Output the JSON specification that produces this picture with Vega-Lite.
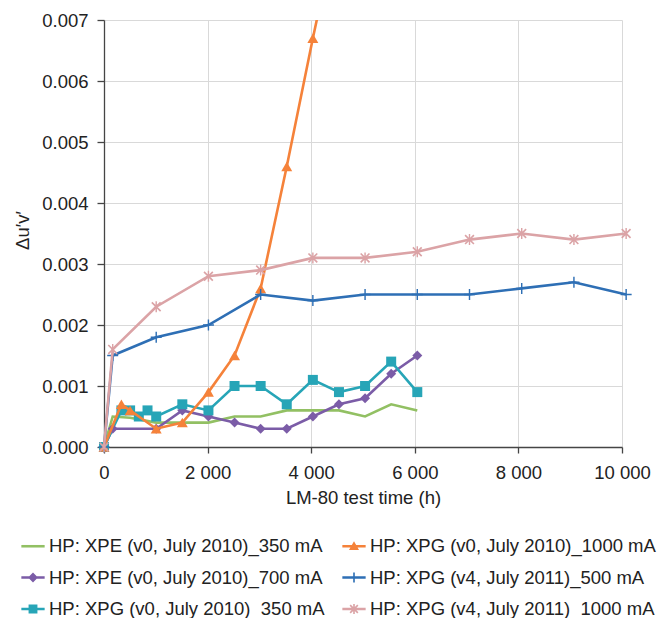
{
  "$schema": "https://vega.github.io/schema/vega-lite/v6.json",
  "width": 518,
  "height": 427,
  "autosize": "none",
  "padding": {"left": 104, "top": 20, "right": 40, "bottom": 171},
  "background": "white",
  "config": {
    "font": "Liberation Sans",
    "view": {"stroke": null},
    "axis": {
      "labelFontSize": 18.5,
      "titleFontSize": 18.5,
      "labelColor": "#222222",
      "titleColor": "#222222",
      "titleFontWeight": "normal",
      "gridColor": "#d9d9d9",
      "gridWidth": 1,
      "domainColor": "#454545",
      "domainWidth": 1.3,
      "tickColor": "#454545",
      "tickWidth": 1.3
    }
  },
  "data": {
    "values": [
      {"s": "HP: XPE (v0, July 2010)_350 mA", "t": 0, "d": 0},
      {"s": "HP: XPE (v0, July 2010)_350 mA", "t": 168, "d": 0.0005},
      {"s": "HP: XPE (v0, July 2010)_350 mA", "t": 504, "d": 0.00048},
      {"s": "HP: XPE (v0, July 2010)_350 mA", "t": 1008, "d": 0.0004},
      {"s": "HP: XPE (v0, July 2010)_350 mA", "t": 1512, "d": 0.0004},
      {"s": "HP: XPE (v0, July 2010)_350 mA", "t": 2016, "d": 0.0004},
      {"s": "HP: XPE (v0, July 2010)_350 mA", "t": 2520, "d": 0.0005},
      {"s": "HP: XPE (v0, July 2010)_350 mA", "t": 3024, "d": 0.0005},
      {"s": "HP: XPE (v0, July 2010)_350 mA", "t": 3528, "d": 0.0006},
      {"s": "HP: XPE (v0, July 2010)_350 mA", "t": 4032, "d": 0.0006},
      {"s": "HP: XPE (v0, July 2010)_350 mA", "t": 4536, "d": 0.0006},
      {"s": "HP: XPE (v0, July 2010)_350 mA", "t": 5040, "d": 0.0005},
      {"s": "HP: XPE (v0, July 2010)_350 mA", "t": 5544, "d": 0.0007},
      {"s": "HP: XPE (v0, July 2010)_350 mA", "t": 6048, "d": 0.0006},
      {"s": "HP: XPE (v0, July 2010)_700 mA", "t": 0, "d": 0},
      {"s": "HP: XPE (v0, July 2010)_700 mA", "t": 168, "d": 0.0003},
      {"s": "HP: XPE (v0, July 2010)_700 mA", "t": 1008, "d": 0.0003},
      {"s": "HP: XPE (v0, July 2010)_700 mA", "t": 1512, "d": 0.0006},
      {"s": "HP: XPE (v0, July 2010)_700 mA", "t": 2016, "d": 0.0005},
      {"s": "HP: XPE (v0, July 2010)_700 mA", "t": 2520, "d": 0.0004},
      {"s": "HP: XPE (v0, July 2010)_700 mA", "t": 3024, "d": 0.0003},
      {"s": "HP: XPE (v0, July 2010)_700 mA", "t": 3528, "d": 0.0003},
      {"s": "HP: XPE (v0, July 2010)_700 mA", "t": 4032, "d": 0.0005},
      {"s": "HP: XPE (v0, July 2010)_700 mA", "t": 4536, "d": 0.0007},
      {"s": "HP: XPE (v0, July 2010)_700 mA", "t": 5040, "d": 0.0008},
      {"s": "HP: XPE (v0, July 2010)_700 mA", "t": 5544, "d": 0.0012},
      {"s": "HP: XPE (v0, July 2010)_700 mA", "t": 6048, "d": 0.0015},
      {"s": "HP: XPG (v0, July 2010)_350 mA", "t": 0, "d": 0},
      {"s": "HP: XPG (v0, July 2010)_350 mA", "t": 336, "d": 0.0006},
      {"s": "HP: XPG (v0, July 2010)_350 mA", "t": 504, "d": 0.0006},
      {"s": "HP: XPG (v0, July 2010)_350 mA", "t": 672, "d": 0.0005},
      {"s": "HP: XPG (v0, July 2010)_350 mA", "t": 840, "d": 0.0006},
      {"s": "HP: XPG (v0, July 2010)_350 mA", "t": 1008, "d": 0.0005},
      {"s": "HP: XPG (v0, July 2010)_350 mA", "t": 1512, "d": 0.0007},
      {"s": "HP: XPG (v0, July 2010)_350 mA", "t": 2016, "d": 0.0006},
      {"s": "HP: XPG (v0, July 2010)_350 mA", "t": 2520, "d": 0.001},
      {"s": "HP: XPG (v0, July 2010)_350 mA", "t": 3024, "d": 0.001},
      {"s": "HP: XPG (v0, July 2010)_350 mA", "t": 3528, "d": 0.0007},
      {"s": "HP: XPG (v0, July 2010)_350 mA", "t": 4032, "d": 0.0011},
      {"s": "HP: XPG (v0, July 2010)_350 mA", "t": 4536, "d": 0.0009},
      {"s": "HP: XPG (v0, July 2010)_350 mA", "t": 5040, "d": 0.001},
      {"s": "HP: XPG (v0, July 2010)_350 mA", "t": 5544, "d": 0.0014},
      {"s": "HP: XPG (v0, July 2010)_350 mA", "t": 6048, "d": 0.0009},
      {"s": "HP: XPG (v0, July 2010)_1000 mA", "t": 0, "d": 0},
      {"s": "HP: XPG (v0, July 2010)_1000 mA", "t": 336, "d": 0.0007},
      {"s": "HP: XPG (v0, July 2010)_1000 mA", "t": 504, "d": 0.0006},
      {"s": "HP: XPG (v0, July 2010)_1000 mA", "t": 1008, "d": 0.0003},
      {"s": "HP: XPG (v0, July 2010)_1000 mA", "t": 1512, "d": 0.0004},
      {"s": "HP: XPG (v0, July 2010)_1000 mA", "t": 2016, "d": 0.0009},
      {"s": "HP: XPG (v0, July 2010)_1000 mA", "t": 2520, "d": 0.0015},
      {"s": "HP: XPG (v0, July 2010)_1000 mA", "t": 3024, "d": 0.0026},
      {"s": "HP: XPG (v0, July 2010)_1000 mA", "t": 3528, "d": 0.0046},
      {"s": "HP: XPG (v0, July 2010)_1000 mA", "t": 4032, "d": 0.0067},
      {"s": "HP: XPG (v0, July 2010)_1000 mA", "t": 4536, "d": 0.0087},
      {"s": "HP: XPG (v4, July 2011)_500 mA", "t": 0, "d": 0},
      {"s": "HP: XPG (v4, July 2011)_500 mA", "t": 168, "d": 0.0015},
      {"s": "HP: XPG (v4, July 2011)_500 mA", "t": 1008, "d": 0.0018},
      {"s": "HP: XPG (v4, July 2011)_500 mA", "t": 2016, "d": 0.002},
      {"s": "HP: XPG (v4, July 2011)_500 mA", "t": 3024, "d": 0.0025},
      {"s": "HP: XPG (v4, July 2011)_500 mA", "t": 4032, "d": 0.0024},
      {"s": "HP: XPG (v4, July 2011)_500 mA", "t": 5040, "d": 0.0025},
      {"s": "HP: XPG (v4, July 2011)_500 mA", "t": 6048, "d": 0.0025},
      {"s": "HP: XPG (v4, July 2011)_500 mA", "t": 7056, "d": 0.0025},
      {"s": "HP: XPG (v4, July 2011)_500 mA", "t": 8064, "d": 0.0026},
      {"s": "HP: XPG (v4, July 2011)_500 mA", "t": 9072, "d": 0.0027},
      {"s": "HP: XPG (v4, July 2011)_500 mA", "t": 10080, "d": 0.0025},
      {"s": "HP: XPG (v4, July 2011)_1000 mA", "t": 0, "d": 0},
      {"s": "HP: XPG (v4, July 2011)_1000 mA", "t": 168, "d": 0.0016},
      {"s": "HP: XPG (v4, July 2011)_1000 mA", "t": 1008, "d": 0.0023},
      {"s": "HP: XPG (v4, July 2011)_1000 mA", "t": 2016, "d": 0.0028},
      {"s": "HP: XPG (v4, July 2011)_1000 mA", "t": 3024, "d": 0.0029},
      {"s": "HP: XPG (v4, July 2011)_1000 mA", "t": 4032, "d": 0.0031},
      {"s": "HP: XPG (v4, July 2011)_1000 mA", "t": 5040, "d": 0.0031},
      {"s": "HP: XPG (v4, July 2011)_1000 mA", "t": 6048, "d": 0.0032},
      {"s": "HP: XPG (v4, July 2011)_1000 mA", "t": 7056, "d": 0.0034},
      {"s": "HP: XPG (v4, July 2011)_1000 mA", "t": 8064, "d": 0.0035},
      {"s": "HP: XPG (v4, July 2011)_1000 mA", "t": 9072, "d": 0.0034},
      {"s": "HP: XPG (v4, July 2011)_1000 mA", "t": 10080, "d": 0.0035}
    ]
  },
  "encoding": {
    "x": {
      "field": "t",
      "type": "quantitative",
      "title": "LM-80 test time (h)",
      "scale": {"domain": [0, 10000], "nice": false, "zero": false},
      "axis": {
        "values": [0, 2000, 4000, 6000, 8000, 10000],
        "labelExpr": "replace(format(datum.value, ','), ',', ' ')",
        "tickSize": 6,
        "labelPadding": 10,
        "titleBaseline": "alphabetic",
        "titleY": 56,
        "labelFlush": false,
        "labelOverlap": false
      }
    },
    "y": {
      "field": "d",
      "type": "quantitative",
      "title": "Δu′v′",
      "scale": {"domain": [0, 0.007], "nice": false, "zero": false},
      "axis": {
        "values": [0, 0.001, 0.002, 0.003, 0.004, 0.005, 0.006, 0.007],
        "format": ".3f",
        "tickSize": 7,
        "labelPadding": 9,
        "titleAngle": 270,
        "titleBaseline": "alphabetic",
        "titleAlign": "center",
        "titleX": -76,
        "titleY": 210,
        "labelFlush": false,
        "labelOverlap": false
      }
    }
  },
  "layer": [
    {
      "transform": [{"filter": {"field": "s", "oneOf": ["HP: XPE (v0, July 2010)_350 mA", "HP: XPE (v0, July 2010)_700 mA", "HP: XPG (v0, July 2010)_350 mA"]}}],
      "mark": {"type": "line", "strokeWidth": 2.6},
      "encoding": {
        "stroke": {
          "field": "s", "type": "nominal", "legend": null,
          "scale": {
            "domain": ["HP: XPE (v0, July 2010)_350 mA", "HP: XPE (v0, July 2010)_700 mA", "HP: XPG (v0, July 2010)_350 mA"],
            "range": ["#92c063", "#7b5ca7", "#27a5b7"]
          }
        }
      }
    },
    {
      "transform": [{"filter": {"field": "s", "equal": "HP: XPE (v0, July 2010)_700 mA"}}],
      "mark": {"type": "point", "shape": "diamond", "filled": true, "color": "#7b5ca7", "size": 100, "opacity": 1},
      "encoding": {}
    },
    {
      "transform": [{"filter": {"field": "s", "equal": "HP: XPG (v0, July 2010)_350 mA"}}],
      "mark": {"type": "point", "shape": "square", "filled": true, "color": "#27a5b7", "size": 100, "opacity": 1},
      "encoding": {}
    },
    {
      "transform": [{"filter": {"field": "s", "equal": "HP: XPG (v0, July 2010)_1000 mA"}}],
      "mark": {"type": "line", "strokeWidth": 2.6, "clip": true, "color": "#f5823a"},
      "encoding": {}
    },
    {
      "transform": [{"filter": "datum.s == 'HP: XPG (v0, July 2010)_1000 mA' && datum.d <= 0.007"}],
      "mark": {"type": "point", "shape": "triangle-up", "filled": true, "color": "#f5823a", "size": 120, "opacity": 1},
      "encoding": {}
    },
    {
      "transform": [{"filter": {"field": "s", "equal": "HP: XPG (v4, July 2011)_500 mA"}}],
      "mark": {"type": "line", "strokeWidth": 2.6, "color": "#2e6fb5"},
      "encoding": {}
    },
    {
      "transform": [{"filter": {"field": "s", "equal": "HP: XPG (v4, July 2011)_500 mA"}}],
      "mark": {"type": "point", "shape": "M-1,-0.13H1V0.13H-1ZM-0.13,-1H0.13V1H-0.13Z", "filled": true, "color": "#2e6fb5", "size": 121, "opacity": 1},
      "encoding": {}
    },
    {
      "transform": [{"filter": {"field": "s", "equal": "HP: XPG (v4, July 2011)_1000 mA"}}],
      "mark": {"type": "line", "strokeWidth": 2.6, "color": "#dba3a6"},
      "encoding": {}
    },
    {
      "transform": [{"filter": {"field": "s", "equal": "HP: XPG (v4, July 2011)_1000 mA"}}],
      "mark": {"type": "point", "shape": "M-0.13,-1H0.13V1H-0.13ZM-0.694,-0.906L0.906,0.694L0.694,0.906L-0.906,-0.694ZM-0.906,0.694L0.694,-0.906L0.906,-0.694L-0.694,0.906Z", "filled": true, "color": "#dba3a6", "size": 121, "opacity": 1},
      "encoding": {}
    },
    {
      "transform": [{"filter": "datum.t < 0"}],
      "mark": {"type": "point", "filled": true, "opacity": 1, "size": 543},
      "encoding": {
        "color": {
          "field": "s", "type": "nominal",
          "scale": {
            "domain": ["HP: XPE (v0, July 2010)_350 mA", "HP: XPE (v0, July 2010)_700 mA", "HP: XPG (v0, July 2010)_350 mA", "HP: XPG (v0, July 2010)_1000 mA", "HP: XPG (v4, July 2011)_500 mA", "HP: XPG (v4, July 2011)_1000 mA"],
            "range": ["#92c063", "#7b5ca7", "#27a5b7", "#f5823a", "#2e6fb5", "#dba3a6"]
          },
          "legend": {"orient": "none", "legendX": -83, "legendY": 514, "columns": 2, "title": null, "labelFontSize": 18.5, "labelColor": "#222222", "labelLimit": 400, "labelOffset": 4, "symbolSize": 543, "symbolStrokeWidth": 0, "columnPadding": 17, "rowPadding": 9.5, "padding": 0, "symbolOpacity": 1}
        },
        "shape": {
          "field": "s", "type": "nominal",
          "scale": {
            "domain": ["HP: XPE (v0, July 2010)_350 mA", "HP: XPE (v0, July 2010)_700 mA", "HP: XPG (v0, July 2010)_350 mA", "HP: XPG (v0, July 2010)_1000 mA", "HP: XPG (v4, July 2011)_500 mA", "HP: XPG (v4, July 2011)_1000 mA"],
            "range": [
              "M-1,-0.11H1V0.11H-1Z",
              "M-1,-0.11H1V0.11H-1ZM0,-0.42L0.42,0L0,0.42L-0.42,0Z",
              "M-1,-0.11H1V0.11H-1ZM-0.38,-0.38H0.38V0.38H-0.38Z",
              "M-1,-0.11H1V0.11H-1ZM0,-0.42L0.43,0.33L-0.43,0.33Z",
              "M-1,-0.11H1V0.11H-1ZM-0.07,-0.42H0.07V0.42H-0.07Z",
              "M-1,-0.11H1V0.11H-1ZM-0.07,-0.42H0.07V0.42H-0.07ZM-0.28,-0.38L0.38,0.28L0.28,0.38L-0.38,-0.28ZM-0.38,0.28L0.28,-0.38L0.38,-0.28L-0.28,0.38Z"
            ]
          },
          "legend": {"orient": "none", "legendX": -83, "legendY": 514, "columns": 2, "title": null, "labelFontSize": 18.5, "labelColor": "#222222", "labelLimit": 400, "labelOffset": 4, "symbolSize": 543, "symbolStrokeWidth": 0, "columnPadding": 17, "rowPadding": 9.5, "padding": 0, "symbolOpacity": 1}
        }
      }
    }
  ]
}
